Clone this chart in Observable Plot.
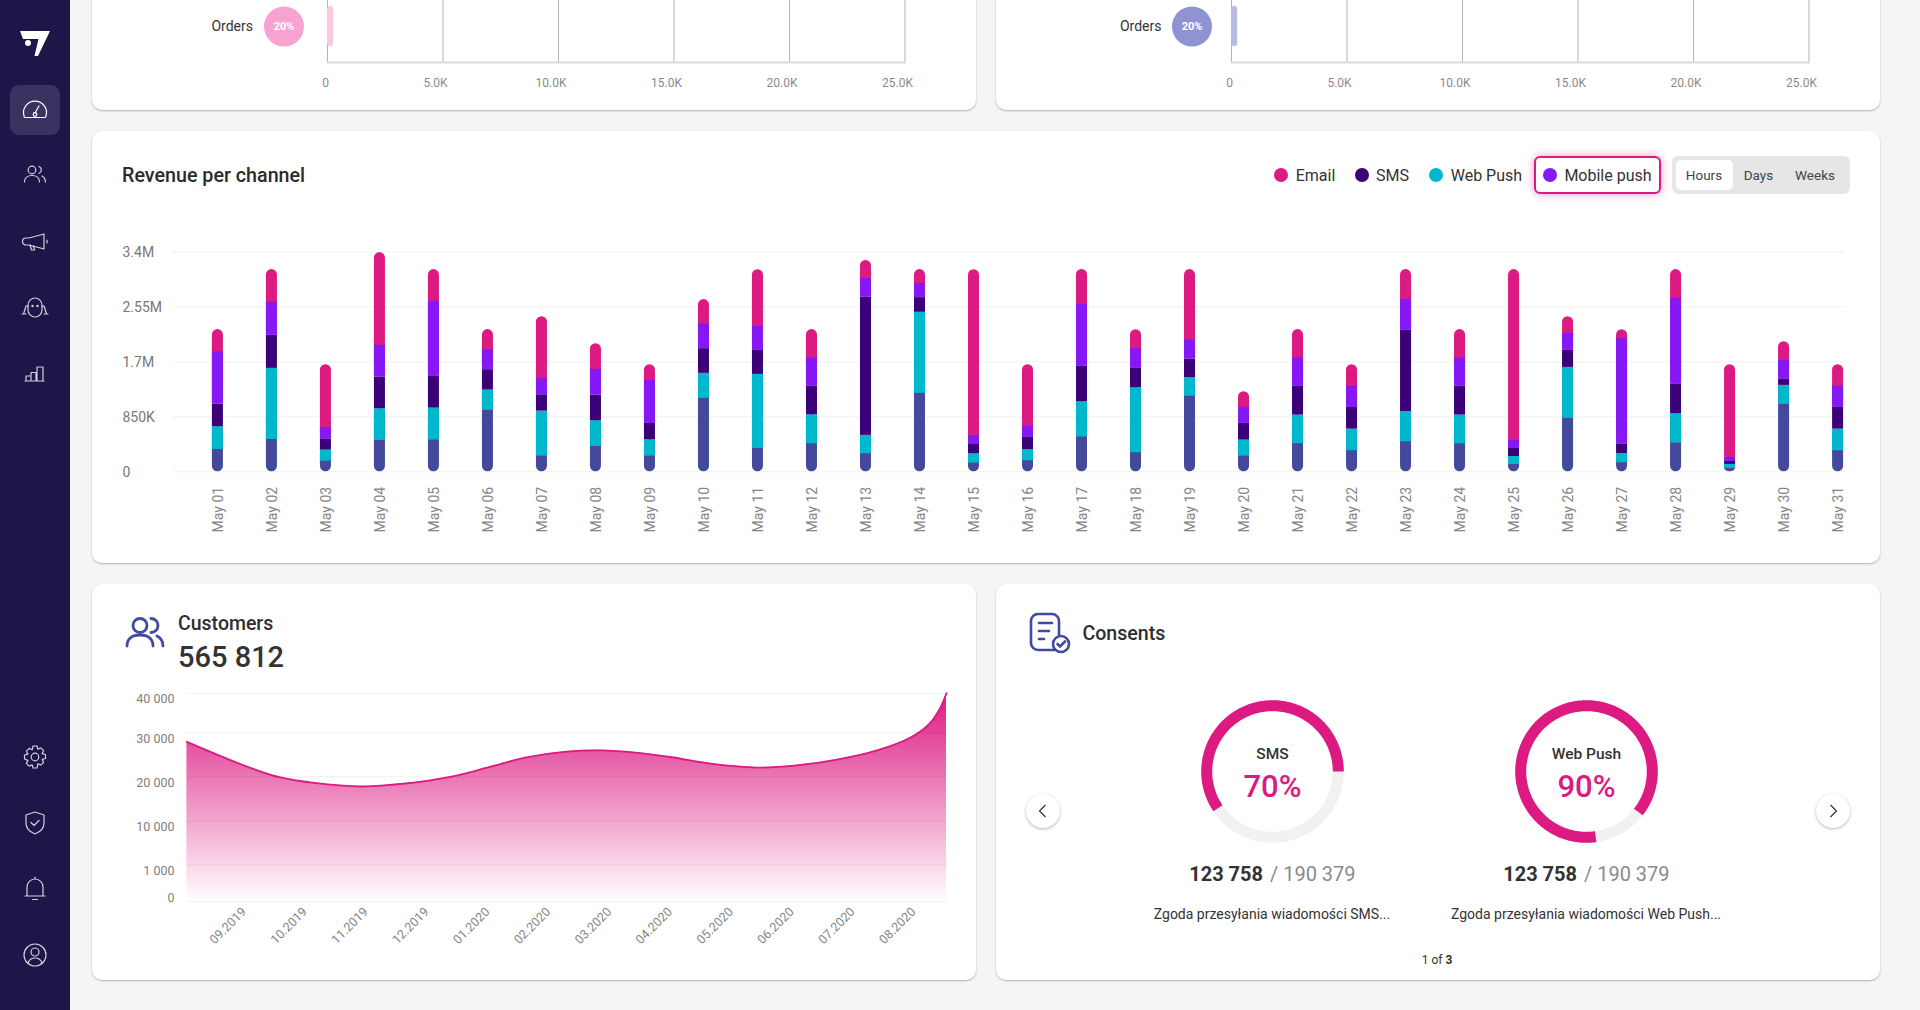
<!DOCTYPE html>
<html><head><meta charset="utf-8">
<script src="https://cdn.jsdelivr.net/npm/d3@7"></script>
<script src="https://cdn.jsdelivr.net/npm/@observablehq/plot@0.6"></script>
<style>
html,body{margin:0;padding:0;width:1920px;height:1010px;overflow:hidden;background:#f5f5f5;font-family:Roboto,sans-serif;color:#2e2e2e}
.abs{position:absolute}
.card{position:absolute;background:#fff;border-radius:10px;box-shadow:0 1px 2px rgba(0,0,0,.28)}
.t{position:absolute;white-space:nowrap;transform:translateY(-50%)}
.c{transform:translate(-50%,-50%)}
</style></head><body>
<div id="root"></div>
<script>
// ---------- data ----------
const days = ["May 01","May 02","May 03","May 04","May 05","May 06","May 07","May 08","May 09","May 10","May 11","May 12","May 13","May 14","May 15","May 16","May 17","May 18","May 19","May 20","May 21","May 22","May 23","May 24","May 25","May 26","May 27","May 28","May 29","May 30","May 31"];
const baseK   = [346,500,165,485,490,949,242,392,242,1135,361,433,279,1212,134,170,537,294,1166,242,433,325,464,433,113,825,139,444,52,1042,325];
const webPush = [351,1099,170,490,495,315,696,397,253,387,1145,449,284,1254,144,175,547,1006,289,248,444,335,469,444,124,789,144,454,62,294,335];
const sms     = [351,511,175,490,490,315,253,397,253,382,371,439,2136,227,144,186,547,299,289,258,444,335,1254,444,124,263,150,454,46,93,335];
const mobile  = [805,511,175,490,1161,310,253,397,666,382,371,439,289,217,139,170,960,304,294,248,439,330,475,439,124,263,1625,1331,62,294,330];
const email   = [346,506,970,1434,490,310,954,397,242,377,877,439,279,217,2564,954,537,294,1089,242,439,330,464,439,2641,258,139,444,1434,289,330];
const revTicks = [0,850,1700,2550,3400];
const revTickLabels = ["0","850K","1.7M","2.55M","3.4M"];
const legendNames = ["Email","SMS","Web Push","Mobile push"];
const rangeNames = ["Hours","Days","Weeks"];

const custX = [-0.94,0.07,0.58,1.15,1.91,2.47,3.04,3.51,4.08,4.64,5.30,5.87,6.43,7.0,7.66,8.42,9.08,9.74,10.4,10.96,11.25,11.43,11.54];
const custY = [27950,22200,19900,18600,17800,18250,19150,20300,22400,24400,25700,26000,25500,24500,23000,22100,22600,23900,26000,29000,32100,36050,40000];
const months = ["09.2019","10.2019","11.2019","12.2019","01.2020","02.2020","03.2020","04.2020","05.2020","06.2020","07.2020","08.2020"];
const custTicks = [0,1000,10000,20000,30000,40000];
const custTickLabels = ["0","1 000","10 000","20 000","30 000","40 000"];
const custAxisStops = [0,37,81,125,169,208.6]; // the reference's uneven value axis

const orderTicks = [0,5000,10000,15000,20000,25000];
const orderTickLabels = ["0","5.0K","10.0K","15.0K","20.0K","25.0K"];
const ordersValue = 270;

const consentNames = ["SMS","Web Push"];
const consentPct = ["70%","90%"];
const consentStart = [146,82];   // degrees clockwise from 3 o'clock, as drawn
const consentSweep = [214,316];
const consentText = ["Zgoda przesyłania wiadomości SMS...","Zgoda przesyłania wiadomości Web Push..."];

// ---------- colours ----------
const PINK="#dc1a82", VIOLET="#8518f5", DARK="#3c0078", TEAL="#00b8cc", BLUE="#44499b";
const root=document.getElementById("root");
const div=(cls,style,html="")=>{const e=document.createElement("div");e.className=cls;e.style.cssText=style;e.innerHTML=html;root.appendChild(e);return e;};
const put=(svg,left,top)=>{svg.style.position="absolute";svg.style.maxWidth="none";svg.style.background="transparent";svg.style.overflow="visible";svg.style.left=left+"px";svg.style.top=top+"px";root.appendChild(svg);};

// ---------- shell ----------
div("abs","left:0;top:0;width:70px;height:1010px;background:#1e1548");
div("abs","left:10px;top:85px;width:50px;height:50px;border-radius:9px;background:#3b3262");
const icon=(cy,body,op=.8)=>div("abs",`left:20px;top:${cy-15}px;width:30px;height:30px`,`<svg width="30" height="30" viewBox="0 0 30 30" fill="none" stroke="#fff" stroke-opacity="${op}" stroke-width="1.2" stroke-linecap="round" stroke-linejoin="round">${body}</svg>`);
div("abs","left:19px;top:29px;width:32px;height:28px",`<svg width="32" height="28" viewBox="0 0 32 28"><path fill="#fff" d="M1 2H31L19 27H15.5L19.5 10H4Z"/><circle cx="9" cy="14" r="3" fill="#fff"/></svg>`);
icon(110,`<path d="M4 21a11.5 11.5 0 1 1 22 0a1.5 1.5 0 0 1-1.5 1.5h-19A1.5 1.5 0 0 1 4 21Z"/><path d="M15 18l4-7"/><circle cx="15" cy="19.5" r="1.8"/>`,1);
icon(175,`<circle cx="12" cy="10" r="3.8"/><path d="M4.5 22c0-4 3-6.5 7.5-6.5s7.5 2.500 7.500 6.500"/><path d="M19 6.500a3.800 3.800 0 0 1 0 7M22 16c2 1 3.500 3 3.500 6"/>`);
icon(241.6,`<path d="M9 11l15-4v15l-15-4H6a3.500 3.500 0 0 1 0-7Z"/><path d="M10 18l1.500 5h3l-1-4M27 13v3"/>`);
icon(308,`<path d="M8 12a7 7 0 0 1 14 0v5a7 7 0 0 1-14 0Z"/><path d="M8 13H6l-2.500 8M22 13h2l2.500 8M2 21h4M24 21h4"/><circle cx="12.500" cy="13" r=".6"/><circle cx="17.500" cy="13" r=".6"/>`);
icon(373.7,`<path d="M6 22v-5h5v5ZM11 22v-8.500h5V22ZM17 22V8h6v14ZM5 22h19"/>`);
icon(757,`<circle cx="15" cy="15" r="3.800"/><path d="M13 4h4l.8 3.200 3-1.300 2.800 2.800-1.500 2.900 3.400.9v4l-3.400.9 1.500 2.900-2.800 2.800-3-1.300L17 26h-4l-.8-3.200-3 1.300-2.800-2.800 1.500-2.900L4.500 17v-4l3.400-.9-1.500-2.900 2.800-2.800 3 1.300Z"/>`);
icon(823,`<path d="M15 4l9 3v8c0 5-4 9-9 11-5-2-9-6-9-11V7Z"/><path d="M11 14.500l3 3 5-5"/>`);
icon(889,`<path d="M7 22v-9a8 8 0 0 1 16 0v9M5 22h20M15 3v2M12.500 25.500h5"/>`);
icon(955,`<circle cx="15" cy="15" r="11"/><circle cx="15" cy="12" r="4"/><path d="M8 23c1-3 4-5 7-5s6 2 7 5"/>`);

// cards
div("card","left:92px;top:-30px;width:884px;height:140px");
div("card","left:996px;top:-30px;width:884px;height:140px");
div("card","left:92px;top:131px;width:1788px;height:432px");
div("card","left:92px;top:584px;width:884px;height:396px");
div("card","left:996px;top:584px;width:884px;height:396px");

// ---------- top bar charts ----------
function ordersChart(zeroX,fullX,barFill,dotFill,labelDx,dotDx){
  const left=zeroX-200, w=fullX-left+40;
  const row=[{label:"Orders",value:ordersValue}];
  const svg=Plot.plot({
    width:w,height:100,marginLeft:200,marginRight:40,marginTop:0,marginBottom:38,
    style:{fontFamily:"Roboto, sans-serif"},
    x:{domain:[0,25000],ticks:orderTicks},
    y:{domain:["Orders"],range:[6,46],padding:0,axis:null},
    marks:[
      Plot.gridX(orderTicks,{stroke:"#b4b4b4",strokeOpacity:1}),
      Plot.frame({anchor:"bottom",stroke:"#dcdcdc",strokeWidth:2}),
      Plot.barX(row,{x:"value",y:"label",fill:barFill,rx:3}),
      Plot.dot(row,{x:()=>0,y:"label",r:20,fill:dotFill,dx:dotDx}),
      Plot.text(row,{x:()=>0,y:"label",text:()=>"20%",fill:"#fff",fontSize:11,fontWeight:700,dx:dotDx}),
      Plot.text(row,{x:()=>0,y:"label",text:"label",fill:"#333",fontSize:14,textAnchor:"end",dx:labelDx}),
      Plot.axisX(orderTicks.slice(1),{tickSize:0,tickPadding:16,fontSize:12,color:"#8a8a8a",dx:-7.5,label:null,
        tickFormat:d=>orderTickLabels[orderTicks.indexOf(d)]}),
      Plot.axisX(orderTicks.slice(0,1),{tickSize:0,tickPadding:16,fontSize:12,color:"#8a8a8a",dx:-2,label:null,
        tickFormat:d=>orderTickLabels[orderTicks.indexOf(d)]})
    ]});
  put(svg,left,0);
}
ordersChart(327,904.5,"#f9cbe3","#f6a3d2",-74.5,-43.5);
ordersChart(1231,1808.5,"#b9bbe3","#9093d1",-70,-39.5);

// ---------- revenue ----------
div("t","left:122px;top:175px;font-size:19.7px;font-weight:500;color:#2b2b2b","Revenue per channel");
const rows=days.map((d,i)=>{const a=baseK[i]*1e3,b=webPush[i]*1e3,c=sms[i]*1e3,e=mobile[i]*1e3,f=email[i]*1e3;
  return {d,b0:0,b1:a,t1:a+b,s1:a+b+c,m1:a+b+c+e,top:a+b+c+e+f};});
const revenue=Plot.plot({
  width:1789,height:330,marginLeft:81,marginRight:35,marginTop:21.4,marginBottom:88.7,
  style:{fontFamily:"Roboto, sans-serif"},
  x:{domain:days,range:[120.9,1752.1],paddingInner:.796,paddingOuter:0,round:false},
  y:{domain:[0,3400000],ticks:revTicks.map(v=>v*1e3)},
  marks:[
    Plot.gridY(revTicks.map(v=>v*1e3),{stroke:"#f1f1f1",strokeOpacity:1}),
    Plot.barY(rows,{x:"d",y1:"b0",y2:"t1",fill:BLUE,rx:5.5}),
    Plot.barY(rows,{x:"d",y1:"s1",y2:"top",fill:PINK,rx:5.5}),
    Plot.barY(rows,{x:"d",y1:"b1",y2:"t1",fill:TEAL}),
    Plot.barY(rows,{x:"d",y1:"t1",y2:"s1",fill:DARK}),
    Plot.barY(rows,{x:"d",y1:"s1",y2:"m1",fill:VIOLET}),
    Plot.axisX({tickRotate:-90,tickSize:0,tickPadding:15,fontSize:14,color:"#858585",label:null,dx:.8}),
    Plot.axisY(revTicks.map(v=>v*1e3),{tickSize:0,tickPadding:50,textAnchor:"start",fontSize:14,color:"#777",label:null,dy:.8,
      tickFormat:d=>revTickLabels[revTicks.indexOf(d/1e3)]})
  ]});
put(revenue,91,229.6);

// legend
const legDot=[1280.8,1361.7,1435.8,1550], legTxt=[1295.7,1376,1450.7,1564.4], legCol=[PINK,DARK,TEAL,VIOLET];
div("abs","left:1534px;top:156px;width:123px;height:34px;border:2.5px solid "+PINK+";border-radius:6px;box-shadow:0 0 9px rgba(220,26,130,.45);background:#fff");
legendNames.forEach((n,i)=>{
  div("abs",`left:${legDot[i]-7}px;top:168px;width:14px;height:14px;border-radius:50%;background:${legCol[i]}`);
  div("t",`left:${legTxt[i]}px;top:175px;font-size:16px;color:#333`,n);
});
div("abs","left:1672px;top:156px;width:178px;height:38px;border-radius:6px;background:#e6e6e6");
div("abs","left:1676px;top:160px;width:57px;height:30px;border-radius:5px;background:#fff");
[1704,1758.4,1815].forEach((x,i)=>div("t c",`left:${x}px;top:175px;font-size:13.5px;color:#444`,rangeNames[i]));

// ---------- customers ----------
const P="#3f4aa0";
div("abs","left:124px;top:615px;width:42px;height:34px",`<svg width="42" height="34" viewBox="0 0 42 34" fill="none" stroke="${P}" stroke-width="2.800" stroke-linecap="round"><circle cx="16" cy="10.500" r="7"/><path d="M3 31c0-7 5-11 13-11s13 4 13 11"/><path d="M27 3.500a7 7 0 0 1 0 14M33 21c4 2 6 5 6 10"/></svg>`);
div("t","left:178px;top:623px;font-size:19.5px;font-weight:500","Customers");
div("t","left:178px;top:657px;font-size:29px;font-weight:500;color:#333","565 812");
const warp=d3.scaleLinear().domain(custTicks).range(custAxisStops);
const custData=custX.map((x,i)=>({x,y:warp(custY[i])}));
const custTickPos=custTicks.map(warp);
const custLabel=d=>custTickLabels[custTickPos.indexOf(d)];
const gradient=()=>{const s=d3.create("svg:defs");const g=s.append("linearGradient").attr("id","custGrad").attr("x1",0).attr("x2",0).attr("y1",0).attr("y2",1);
  g.append("stop").attr("offset","0%").attr("stop-color",PINK).attr("stop-opacity",1);
  g.append("stop").attr("offset","100%").attr("stop-color",PINK).attr("stop-opacity",0);return s.node();};
const customers=Plot.plot({
  width:884,height:300,marginLeft:94.4,marginRight:30,marginTop:12.7,marginBottom:78.7,
  style:{fontFamily:"Roboto, sans-serif"},
  x:{domain:[custX[0],custX[custX.length-1]]},
  y:{domain:[0,custAxisStops[custAxisStops.length-1]]},
  marks:[
    gradient,
    Plot.areaY(custData,{x:"x",y1:()=>0,y2:"y",curve:"catmull-rom",fill:"url(#custGrad)"}),
    Plot.gridY(custTickPos,{stroke:"#000",strokeOpacity:.06}),
    Plot.lineY(custData,{x:"x",y:"y",curve:"catmull-rom",stroke:PINK,strokeWidth:1.8}),
    Plot.axisX(months.map((_,i)=>i),{tickRotate:-45,tickSize:0,tickPadding:8,fontSize:12.5,color:"#858585",label:null,tickFormat:i=>months[i]}),
    Plot.axisY(custTickPos.slice(1),{tickSize:0,tickPadding:12.4,fontSize:12.5,color:"#808080",dy:6,label:null,tickFormat:custLabel}),
    Plot.axisY(custTickPos.slice(0,1),{tickSize:0,tickPadding:12.4,fontSize:12.5,color:"#808080",dy:-3.600,label:null,tickFormat:custLabel})
  ]});
put(customers,92,680);

// ---------- consents ----------
div("abs","left:1029px;top:612px;width:42px;height:42px",`<svg width="42" height="42" viewBox="0 0 42 42" fill="none" stroke="${P}" stroke-width="2.600" stroke-linecap="round"><path d="M30 23V9a7 7 0 0 0-7-7H9a7 7 0 0 0-7 7v22a7 7 0 0 0 7 7h17"/><path d="M10 11h13M10 19h10M10 27h5"/><circle cx="32" cy="32" r="8"/><path d="M28.500 32l2.500 2.500 5-5"/></svg>`);
div("t","left:1082.4px;top:632.700px;font-size:19.6px;font-weight:500","Consents");
const donutCx=[1272.4,1586.4];
consentNames.forEach((name,i)=>{
  const deg=k=>d3.range(0,k+1);
  const ring=deg(360).map(a=>({x:65.8*Math.cos(a*Math.PI/180),y:65.8*Math.sin(a*Math.PI/180)}));
  const arc=deg(consentSweep[i]).map(a=>{const t=(consentStart[i]+a)*Math.PI/180;return {x:65.8*Math.cos(t),y:65.8*Math.sin(t)};});
  const svg=Plot.plot({
    width:160,height:160,margin:0,
    style:{fontFamily:"Roboto, sans-serif"},
    x:{domain:[-80,80],axis:null},
    y:{domain:[80,-80],axis:null},
    marks:[
      Plot.line(ring,{x:"x",y:"y",stroke:"#f1f1f1",strokeWidth:11,curve:"linear"}),
      Plot.line(arc,{x:"x",y:"y",stroke:PINK,strokeWidth:11,curve:"linear",strokeLinecap:"butt",strokeLinejoin:"round"}),
      Plot.text([name],{frameAnchor:"middle",dy:-17.5,fontSize:15.5,fontWeight:500,fill:"#333"}),
      Plot.text([consentPct[i]],{frameAnchor:"middle",dy:15.4,fontSize:31,fontWeight:500,fill:PINK})
    ]});
  put(svg,donutCx[i]-80,771.3-80);
  div("t c",`left:${donutCx[i]}px;top:874px;font-size:20px;color:#8a8a8a`,`<b style="font-weight:700;color:#333">123 758</b> <span style="margin-left:2px">/ 190 379</span>`);
  div("t c",`left:${i?1586:1272}px;top:914px;font-size:14px;color:#333`,consentText[i]);
});
div("t c","left:1437px;top:960px;font-size:12px;color:#333",`1 of <b>3</b>`);
[[1042.8,"M15.5 7l-6 6 6 6"],[1832.7,"M10.5 7l6 6-6 6"]].forEach(([x,d])=>{
  div("abs",`left:${x-17}px;top:794px;width:34px;height:34px;border-radius:50%;background:#fff;box-shadow:0 1px 3px rgba(0,0,0,.3)`,
   `<svg style="position:absolute;left:4px;top:4px" width="26" height="26" fill="none" stroke="#333" stroke-width="1.200"><path d="${d}"/></svg>`);
});
</script>
</body></html>
